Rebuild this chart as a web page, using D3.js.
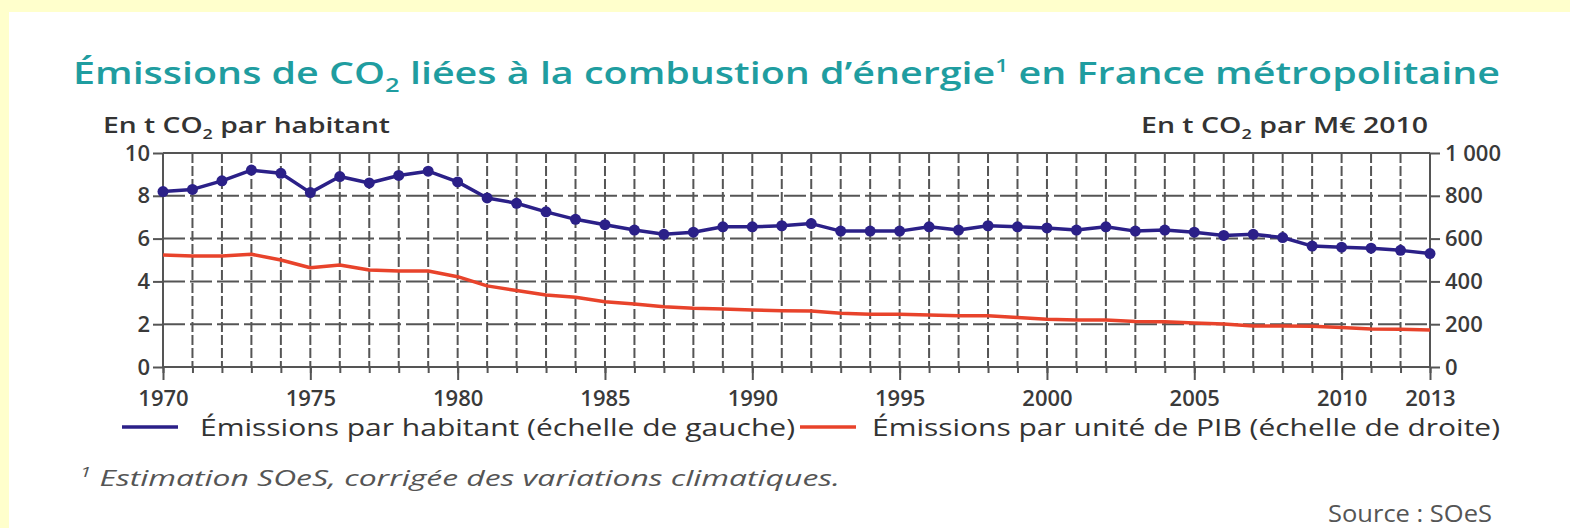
<!DOCTYPE html>
<html>
<head>
  <meta charset="utf-8">
  <title>Émissions de CO2</title>
  <script src="https://cdn.jsdelivr.net/npm/d3@7"></script>
  <style>
    body { margin: 0; background: #ffffcc; }
    text { font-family: "Open Sans", sans-serif; }
  </style>
</head>
<body>
  <div id="chart"></div>
  <script>
    // années et valeurs
    var years = [1970, 1971, 1972, 1973, 1974, 1975, 1976, 1977, 1978, 1979,
                 1980, 1981, 1982, 1983, 1984, 1985, 1986, 1987, 1988, 1989,
                 1990, 1991, 1992, 1993, 1994, 1995, 1996, 1997, 1998, 1999,
                 2000, 2001, 2002, 2003, 2004, 2005, 2006, 2007, 2008, 2009,
                 2010, 2011, 2012, 2013];
    // t CO2 par habitant (échelle de gauche)
    var parHabitant = [8.2, 8.3, 8.7, 9.2, 9.05, 8.15, 8.9, 8.6, 8.95, 9.15,
                       8.65, 7.9, 7.65, 7.25, 6.9, 6.65, 6.4, 6.2, 6.3, 6.55,
                       6.55, 6.6, 6.7, 6.35, 6.35, 6.35, 6.55, 6.4, 6.6, 6.55,
                       6.5, 6.4, 6.55, 6.35, 6.4, 6.3, 6.15, 6.2, 6.05, 5.65,
                       5.6, 5.55, 5.45, 5.3];
    // t CO2 par M€ 2010 (échelle de droite)
    var parPib = [523, 519, 519, 527, 500, 464, 477, 453, 449, 449,
                  422, 379, 357, 336, 326, 305, 294, 282, 274, 271,
                  266, 263, 262, 251, 246, 246, 243, 240, 240, 231,
                  223, 220, 220, 213, 212, 206, 201, 192, 192, 190,
                  185, 178, 176, 173];
    var yearLabels = [1970, 1975, 1980, 1985, 1990, 1995, 2000, 2005, 2010, 2013];
    var leftTicks = [0, 2, 4, 6, 8, 10];
    var rightTicks = [0, 200, 400, 600, 800, 1000];

    var width = 1570, height = 528;
    var x0 = 163, x1 = 1430, yTop = 153, yBot = 367;
    var grid = '#555';
    var blue = '#2b2088', red = '#e8432b';

    var svg = d3.select('#chart').append('svg')
      .attr('width', width).attr('height', height);

    // cadre jaune + panneau blanc
    svg.append('rect').attr('width', width).attr('height', height).attr('fill', '#ffffcc');
    svg.append('rect').attr('x', 9).attr('y', 12).attr('width', width - 9).attr('height', height - 12)
      .attr('fill', '#ffffff');

    var x = d3.scaleLinear().domain([1970, 2013]).range([x0, x1]);
    var yL = d3.scaleLinear().domain([0, 10]).range([yBot, yTop]);
    var yR = d3.scaleLinear().domain([0, 1000]).range([yBot, yTop]);

    // texte avec indices / exposants : le décalage est rendu au morceau suivant
    function richText(g, parts, attrs) {
      var t = g.append('text');
      Object.keys(attrs).forEach(function (k) { t.attr(k, attrs[k]); });
      var back = 0;
      parts.forEach(function (p) {
        if (typeof p === 'string') {
          t.append('tspan').attr('dy', back || null).text(p);
          back = 0;
          return;
        }
        t.append('tspan').attr('font-size', p.size).attr('dy', back + p.dy).text(p.t);
        back = -p.dy;
      });
      return t;
    }

    // titre
    richText(svg, ['Émissions de CO', {t: '2', size: 20, dy: 8}, ' liées à la combustion d’énergie',
                   {t: '1', size: 18, dy: -12}, ' en France métropolitaine'],
      {x: 73, y: 84, 'font-size': 31, 'font-weight': 600, fill: '#1f9da0',
       textLength: 1427, lengthAdjust: 'spacingAndGlyphs'});

    // unités des axes
    richText(svg, ['En t CO', {t: '2', size: 14, dy: 6}, ' par habitant'],
      {x: 103, y: 133, 'font-size': 22, 'font-weight': 600, fill: '#333',
       textLength: 287, lengthAdjust: 'spacingAndGlyphs'});
    richText(svg, ['En t CO', {t: '2', size: 14, dy: 6}, ' par M€ 2010'],
      {x: 1428, y: 133, 'font-size': 22, 'font-weight': 600, fill: '#333', 'text-anchor': 'end',
       textLength: 287, lengthAdjust: 'spacingAndGlyphs'});

    // grille verticale (une ligne par année)
    svg.append('g').selectAll('line').data(years).enter().append('line')
      .attr('x1', function (d) { return x(d); }).attr('x2', function (d) { return x(d); })
      .attr('y1', yTop).attr('y2', yBot)
      .attr('stroke', grid).attr('stroke-width', 2)
      .attr('stroke-dasharray', function (d) { return (d === 1970 || d === 2013) ? null : '10,3'; });

    // grille horizontale
    svg.append('g').selectAll('line').data(leftTicks).enter().append('line')
      .attr('x1', x0).attr('x2', x1)
      .attr('y1', function (d) { return yL(d); }).attr('y2', function (d) { return yL(d); })
      .attr('stroke', grid).attr('stroke-width', 2)
      .attr('stroke-dasharray', function (d) { return (d === 0 || d === 10) ? null : '22,5'; });

    function styleAxis(g) {
      g.select('.domain').remove();
      g.selectAll('line').attr('stroke', grid).attr('stroke-width', 2);
      g.selectAll('text').attr('font-size', 22).attr('font-weight', 600).attr('fill', '#3a3a3a')
        .attr('font-family', '"Open Sans", sans-serif');
    }

    // petites graduations annuelles
    svg.append('g').attr('transform', 'translate(0,' + yBot + ')')
      .call(d3.axisBottom(x).tickValues(years).tickSize(6).tickFormat(''))
      .call(function (g) { g.select('.domain').remove(); g.selectAll('text').remove();
        g.selectAll('line').attr('stroke', grid).attr('stroke-width', 2); });
    // années étiquetées
    svg.append('g').attr('transform', 'translate(0,' + yBot + ')')
      .call(d3.axisBottom(x).tickValues(yearLabels).tickSize(13).tickPadding(10).tickFormat(d3.format('d')))
      .call(styleAxis);

    svg.append('g').attr('transform', 'translate(' + x0 + ',0)')
      .call(d3.axisLeft(yL).tickValues(leftTicks).tickSize(10).tickPadding(3))
      .call(styleAxis);

    svg.append('g').attr('transform', 'translate(' + x1 + ',0)')
      .call(d3.axisRight(yR).tickValues(rightTicks).tickSize(10).tickPadding(5)
        .tickFormat(function (d) { return d3.format(',')(d).replace(',', ' '); }))
      .call(styleAxis);

    // série rouge : par unité de PIB
    var lineR = d3.line()
      .x(function (d, i) { return x(years[i]); })
      .y(function (d) { return yR(d); });
    svg.append('path').datum(parPib)
      .attr('d', lineR).attr('fill', 'none')
      .attr('stroke', red).attr('stroke-width', 3.5).attr('stroke-linejoin', 'round');

    // série bleue : par habitant
    var lineL = d3.line()
      .x(function (d, i) { return x(years[i]); })
      .y(function (d) { return yL(d); });
    svg.append('path').datum(parHabitant)
      .attr('d', lineL).attr('fill', 'none')
      .attr('stroke', blue).attr('stroke-width', 3.5).attr('stroke-linejoin', 'round');
    svg.append('g').selectAll('circle').data(parHabitant).enter().append('circle')
      .attr('cx', function (d, i) { return x(years[i]); })
      .attr('cy', function (d) { return yL(d); })
      .attr('r', 5.5).attr('fill', blue);

    // légende
    var legend = svg.append('g');
    legend.append('line').attr('x1', 122).attr('x2', 178).attr('y1', 427).attr('y2', 427)
      .attr('stroke', blue).attr('stroke-width', 3.5);
    legend.append('text').attr('x', 200).attr('y', 436)
      .attr('font-size', 24).attr('fill', '#333')
      .attr('textLength', 595).attr('lengthAdjust', 'spacingAndGlyphs')
      .text('Émissions par habitant (échelle de gauche)');
    legend.append('line').attr('x1', 800).attr('x2', 856).attr('y1', 427).attr('y2', 427)
      .attr('stroke', red).attr('stroke-width', 3.5);
    legend.append('text').attr('x', 872).attr('y', 436)
      .attr('font-size', 24).attr('fill', '#333')
      .attr('textLength', 628).attr('lengthAdjust', 'spacingAndGlyphs')
      .text('Émissions par unité de PIB (échelle de droite)');

    // note et source
    richText(svg, [{t: '1', size: 14, dy: -9}, ' Estimation SOeS, corrigée des variations climatiques.'],
      {x: 80, y: 486, 'font-size': 22, 'font-style': 'italic', fill: '#555',
       textLength: 760, lengthAdjust: 'spacingAndGlyphs'});
    svg.append('text').attr('x', 1492).attr('y', 522)
      .attr('text-anchor', 'end').attr('font-size', 23).attr('fill', '#555')
      .attr('textLength', 164).attr('lengthAdjust', 'spacingAndGlyphs')
      .text('Source : SOeS');
  </script>
</body>
</html>
